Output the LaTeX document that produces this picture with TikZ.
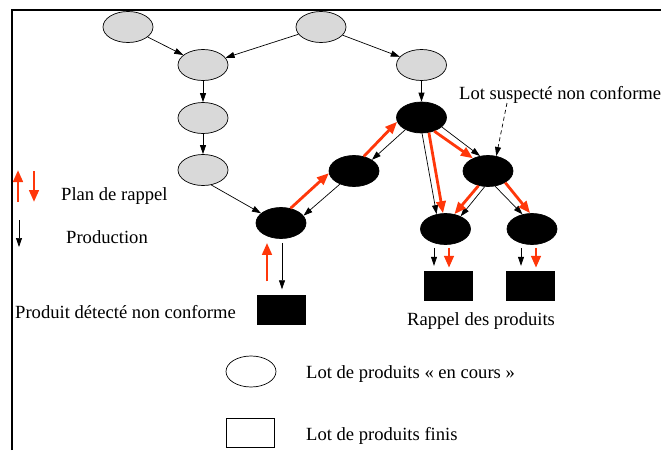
\documentclass[tikz,border=0pt]{standalone}
\usepackage{fontspec}
\setmainfont{Liberation Serif}
\usetikzlibrary{arrows.meta,shapes.geometric}
\definecolor{rappelred}{RGB}{255,55,10}
\definecolor{lotgray}{RGB}{217,217,217}
\begin{document}
\begin{tikzpicture}[x=1pt,y=-1pt,
  lot/.style={ellipse,draw=black,line width=0.7pt,minimum width=50pt,minimum height=31pt,inner sep=0pt},
  encours/.style={lot,fill=lotgray},
  suspect/.style={lot,fill=black},
  fini/.style={rectangle,fill=black,minimum width=49pt,minimum height=30pt,inner sep=0pt},
  prod/.style={draw=black,line width=0.7pt,-{Triangle[length=9pt,width=6pt]}},
  rappel/.style={draw=rappelred,line width=2.8pt,-{Triangle[length=12pt,width=9.5pt]}},
  txt/.style={font=\fontsize{18.6}{22}\selectfont,inner sep=0pt,anchor=base west},
]
\useasboundingbox (0,0) rectangle (661,450);

% frame
\draw[line width=2pt] (12,450) -- (12,10) -- (661,10);

% lots in progress (grey) and suspect lots (black)
\node[encours] (A) at (128,27) {};
\node[encours] (B) at (321,27) {};
\node[encours] (C) at (203,65) {};
\node[encours] (D) at (421.5,65) {};
\node[encours] (E) at (203,118) {};
\node[encours] (F) at (203,170) {};
\node[suspect] (G) at (281,223) {};
\node[suspect] (H) at (354,171) {};
\node[suspect] (I) at (421.5,117.5) {};
\node[suspect] (J) at (488,171) {};
\node[suspect] (K) at (445.5,229) {};
\node[suspect] (L) at (532,229) {};

% finished products
\node[fini] (R1) at (281,309.5) {};
\node[fini] (R2) at (448.5,286) {};
\node[fini] (R3) at (530.5,286) {};

% production flow
\draw[prod] (A) -- (C);
\draw[prod] (B) -- (C);
\draw[prod] (B) -- (D);
\draw[prod] (C) -- (E);
\draw[prod] (E) -- (F);
\draw[prod] (F.-61) -- (G.154);
\draw[prod] (D) -- (I);
\draw[prod] (H.223) -- (G.18);
\draw[prod] (I.217) -- (H.32);
\draw[prod] (I.-25) -- (J.118);
\draw[prod] (I.-88) -- (K.121);
\draw[prod] (J.258) -- (K.40);
\draw[prod] (J.-65) -- (L.123);
\draw[prod,shorten <=4pt,shorten >=5pt] ([xshift=1pt]R1.north |- G.south) -- ([xshift=1pt]R1.north);
\draw[prod,shorten <=3pt,shorten >=5pt] ([xshift=-14.5pt]R2.north |- K.south) -- ([xshift=-14.5pt]R2.north);
\draw[prod,shorten <=3pt,shorten >=5pt] ([xshift=-9.5pt]R3.north |- L.south) -- ([xshift=-9.5pt]R3.north);

% recall plan
\draw[rappel,shorten <=13pt,shorten >=4pt] ([xshift=-14pt]R1.north) -- ([xshift=-14pt]R1.north |- G.south);
\draw[rappel] (G.57) -- (H.185);
\draw[rappel] (H.56) -- (I.190);
\draw[rappel] (I.-47) -- (J.140);
\draw[rappel] (I.-64) -- (K.99);
\draw[rappel] (J.237) -- (K.59);
\draw[rappel] (J.-34) -- (L.97);
\draw[rappel,shorten <=3pt,shorten >=3pt] ([xshift=0.5pt]R2.north |- K.south) -- ([xshift=0.5pt]R2.north);
\draw[rappel,shorten <=3pt,shorten >=3pt] ([xshift=5.5pt]R3.north |- L.south) -- ([xshift=5.5pt]R3.north);

% annotations
\node[txt] (suspTxt) at (459,99) {Lot suspecté non conforme};
\coordinate (suspFoot) at (507,103);
\draw[prod,dash pattern=on 4pt off 3pt] (suspFoot) -- (J.61);
\node[txt] (detTxt) at (15,318) {Produit détecté non conforme};
\node[txt] (rappTxt) at (407,325) {Rappel des produits};

% legend
\coordinate (ruFrom) at (18,202);
\coordinate (ruTo) at (18,170);
\coordinate (rdFrom) at (34,171);
\coordinate (rdTo) at (34,202);
\coordinate (pFrom) at (19,220);
\coordinate (pTo) at (19,247);
\draw[rappel] (ruFrom) -- (ruTo);
\draw[rappel] (rdFrom) -- (rdTo);
\draw[prod] (pFrom) -- (pTo);
\node[txt] (planTxt) at (61,200) {Plan de rappel};
\node[txt] (prodTxt) at (66,243) {Production};

\node[lot,fill=white] (legLot) at (251,371.5) {};
\node[fini,fill=white,draw=black,line width=0.7pt,minimum width=48pt,minimum height=29pt] (legFini) at (250,432.5) {};
\node[txt] (legLotTxt) at (306,378) {Lot de produits « en cours »};
\node[txt] (legFiniTxt) at (306,440) {Lot de produits finis};
\end{tikzpicture}
\end{document}
